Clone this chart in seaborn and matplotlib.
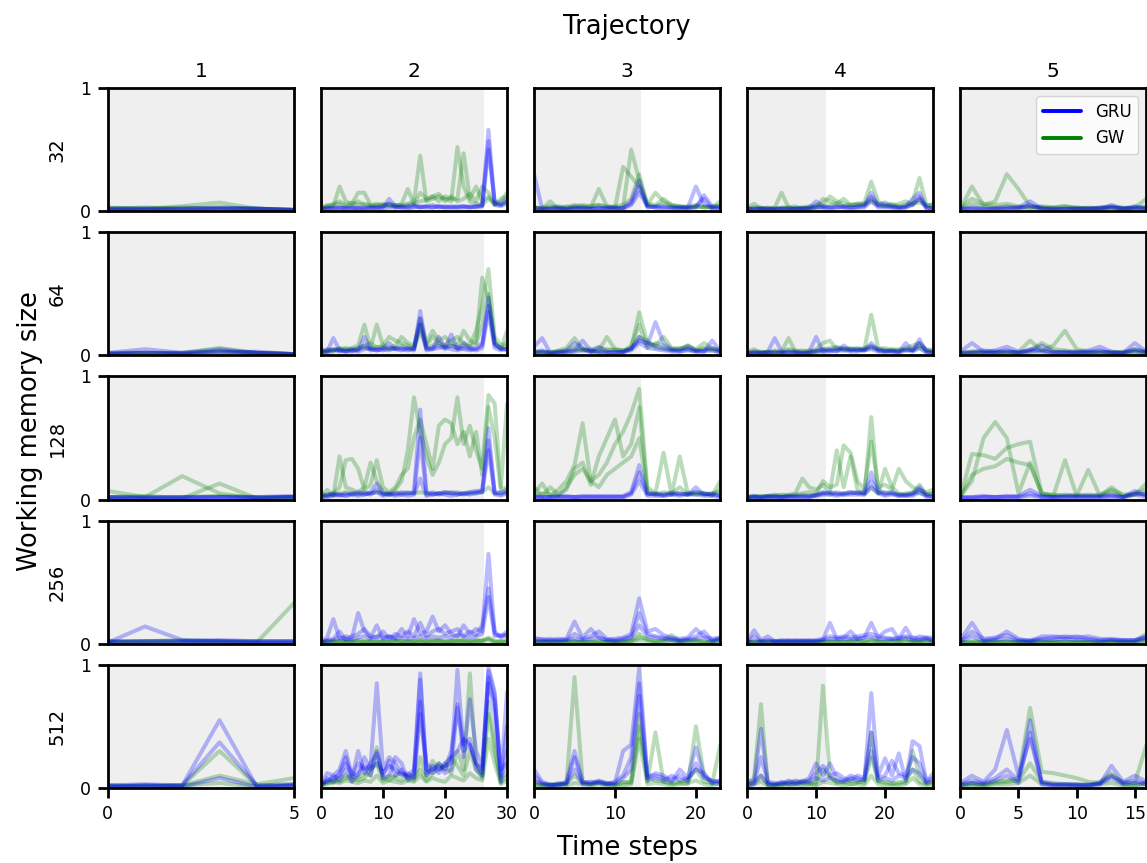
import matplotlib
matplotlib.use('Agg')
import matplotlib.pyplot as plt
from matplotlib.lines import Line2D
import seaborn as sns
import pandas as pd

sns.set_style('ticks')
plt.rcParams['font.family'] = ['DejaVu Sans']
plt.rcParams['xtick.labelsize'] = 12.5
plt.rcParams['ytick.labelsize'] = 12.5
plt.rcParams['text.color'] = 'black'
plt.rcParams['axes.labelcolor'] = 'black'
plt.rcParams['xtick.color'] = 'black'
plt.rcParams['ytick.color'] = 'black'

###############################################################################
# panel layout data
SIZES = [32, 64, 128, 256, 512]
TRAJS = [1, 2, 3, 4, 5]
X_MAX = [5, 30, 23, 27, 16]
SHADE_END = [5, 26.3, 13.2, 11.4, 16]
X_TICKS = [[0, 5], [0, 10, 20, 30], [0, 10, 20], [0, 10, 20], [0, 5, 10, 15]]
Y_TICKS = [0, 1]
COLORS = {'GRU': 'blue', 'GW': 'green'}

###############################################################################
# memory size 32
GRU_32_T1 = [[.02, .02, .02, .02, .02, .01],
             [.01, .01, .02, .03, .02, .01],
             [.02, .02, .01, .02, .02, .01]]
GW_32_T1 = [[.03, .02, .04, .07, .02, .01],
            [.02, .03, .02, .03, .02, .01],
            [.02, .02, .03, .02, .02, .01]]
GRU_32_T2 = [[.02, .02, .03, .03, .02, .03, .02, .03, .03, .02, .03, .10, .04, .03, .04, .05, .03, .04, .05, .03, .04, .03, .03, .04, .03, .04, .05, .66, .06, .05, .08],
             [.01, .02, .02, .03, .02, .02, .03, .02, .02, .03, .02, .03, .03, .04, .03, .03, .04, .03, .03, .04, .03, .04, .03, .03, .04, .03, .04, .57, .05, .04, .06],
             [.02, .03, .02, .02, .03, .03, .02, .02, .03, .03, .04, .06, .03, .03, .02, .04, .03, .04, .03, .04, .03, .03, .04, .04, .03, .04, .04, .50, .08, .06, .10]]
GW_32_T2 = [[.03, .05, .04, .20, .08, .06, .15, .15, .05, .06, .05, .04, .05, .05, .06, .08, .45, .08, .10, .12, .10, .08, .52, .20, .08, .06, .05, .10, .06, .05, .08],
            [.02, .04, .06, .08, .05, .07, .05, .06, .05, .04, .06, .05, .04, .06, .18, .06, .15, .10, .12, .08, .12, .10, .10, .47, .10, .20, .08, .12, .05, .08, .15],
            [.03, .03, .05, .06, .04, .05, .08, .05, .04, .05, .04, .06, .05, .04, .05, .06, .08, .09, .12, .14, .08, .12, .08, .10, .14, .08, .20, .15, .06, .10, .12]]
GRU_32_T3 = [[.30, .02, .02, .03, .02, .02, .03, .02, .02, .03, .02, .02, .08, .25, .04, .03, .03, .03, .02, .03, .20, .05, .03, .02],
             [.03, .02, .02, .02, .02, .03, .02, .02, .03, .02, .02, .03, .06, .20, .03, .04, .04, .03, .03, .03, .03, .13, .04, .03],
             [.02, .01, .02, .02, .01, .02, .02, .02, .02, .02, .03, .02, .05, .15, .04, .03, .02, .02, .03, .02, .04, .10, .02, .03]]
GW_32_T3 = [[.03, .02, .08, .02, .04, .03, .04, .03, .18, .04, .03, .03, .50, .25, .05, .15, .08, .05, .04, .03, .03, .04, .03, .08],
            [.02, .03, .03, .04, .03, .05, .03, .04, .05, .04, .03, .36, .28, .20, .06, .05, .10, .05, .04, .03, .04, .03, .04, .04],
            [.03, .02, .04, .03, .02, .04, .05, .04, .05, .03, .04, .05, .10, .30, .05, .04, .06, .04, .03, .04, .05, .03, .03, .05]]
GRU_32_T4 = [[.02, .02, .02, .02, .01, .02, .02, .02, .02, .03, .08, .04, .03, .03, .04, .03, .04, .05, .15, .05, .07, .04, .03, .04, .10, .15, .03, .02],
             [.01, .02, .02, .02, .02, .02, .01, .02, .02, .02, .03, .03, .03, .04, .03, .03, .03, .04, .12, .04, .04, .03, .03, .03, .05, .12, .03, .02],
             [.02, .01, .02, .01, .02, .02, .02, .02, .02, .02, .04, .03, .02, .03, .03, .02, .03, .03, .08, .03, .03, .03, .02, .03, .06, .10, .02, .02]]
GW_32_T4 = [[.03, .06, .02, .02, .03, .15, .03, .02, .03, .04, .03, .10, .08, .06, .10, .05, .06, .07, .24, .08, .05, .06, .04, .05, .08, .27, .05, .05],
            [.02, .03, .03, .02, .02, .03, .03, .04, .02, .03, .05, .06, .12, .08, .06, .05, .05, .06, .10, .06, .05, .04, .06, .08, .05, .10, .04, .06],
            [.02, .02, .02, .03, .02, .02, .03, .02, .03, .02, .03, .04, .05, .06, .04, .05, .06, .05, .08, .05, .04, .05, .03, .04, .06, .07, .05, .03]]
GRU_32_T5 = [[.02, .03, .02, .02, .03, .03, .08, .02, .02, .02, .02, .02, .02, .05, .02, .04, .02],
             [.01, .02, .02, .02, .02, .02, .05, .02, .01, .02, .02, .02, .02, .03, .02, .03, .02],
             [.02, .02, .01, .02, .02, .03, .04, .02, .02, .01, .02, .02, .03, .03, .02, .02, .02]]
GW_32_T5 = [[.02, .20, .05, .08, .30, .18, .04, .03, .03, .04, .02, .03, .02, .03, .02, .03, .10],
            [.03, .10, .06, .05, .06, .04, .03, .04, .03, .04, .03, .02, .03, .04, .03, .02, .04],
            [.02, .06, .04, .03, .04, .03, .02, .03, .02, .02, .03, .02, .02, .03, .02, .03, .03]]

# memory size 64
GRU_64_T1 = [[.02, .05, .02, .03, .02, .01],
             [.01, .02, .02, .05, .02, .01],
             [.02, .02, .01, .02, .03, .01]]
GW_64_T1 = [[.01, .02, .02, .06, .02, .01],
            [.02, .02, .01, .04, .02, .01],
            [.01, .01, .02, .03, .02, .01]]
GRU_64_T2 = [[.05, .03, .14, .04, .03, .05, .04, .15, .05, .04, .06, .10, .05, .06, .05, .04, .36, .06, .05, .15, .06, .17, .05, .10, .06, .05, .08, .47, .10, .05, .05],
             [.02, .04, .05, .03, .04, .03, .05, .08, .04, .05, .04, .06, .05, .04, .06, .05, .30, .05, .06, .08, .05, .08, .06, .05, .04, .06, .10, .40, .08, .06, .04],
             [.03, .02, .04, .05, .03, .04, .03, .05, .06, .04, .05, .04, .06, .05, .04, .06, .25, .04, .05, .06, .07, .05, .04, .06, .05, .04, .06, .35, .06, .04, .06]]
GW_64_T2 = [[.03, .05, .04, .06, .05, .06, .08, .25, .06, .25, .08, .06, .08, .15, .10, .08, .30, .10, .20, .12, .15, .10, .08, .20, .12, .10, .63, .45, .10, .05, .20],
            [.02, .04, .03, .05, .04, .05, .06, .08, .10, .06, .08, .15, .12, .10, .08, .06, .25, .08, .15, .10, .08, .12, .15, .10, .08, .20, .40, .70, .15, .08, .10],
            [.03, .03, .05, .04, .06, .04, .05, .06, .05, .07, .06, .05, .06, .08, .06, .05, .20, .06, .08, .10, .07, .08, .06, .08, .07, .10, .25, .50, .10, .06, .08]]
GRU_64_T3 = [[.07, .14, .02, .03, .04, .10, .06, .03, .07, .03, .02, .03, .05, .15, .08, .27, .10, .05, .04, .07, .04, .03, .12, .04],
             [.03, .04, .02, .02, .03, .04, .12, .04, .03, .02, .03, .02, .06, .12, .10, .08, .06, .04, .03, .05, .03, .04, .06, .03],
             [.02, .03, .01, .02, .02, .03, .04, .03, .02, .02, .02, .03, .04, .10, .06, .05, .04, .03, .03, .04, .03, .03, .04, .02]]
GW_64_T3 = [[.02, .03, .02, .04, .06, .14, .05, .03, .04, .15, .05, .04, .06, .35, .10, .08, .15, .06, .05, .08, .05, .10, .06, .04],
            [.03, .02, .03, .03, .04, .06, .04, .05, .06, .05, .04, .03, .08, .25, .06, .10, .08, .05, .06, .05, .04, .06, .05, .05],
            [.02, .02, .02, .03, .03, .04, .05, .04, .03, .04, .05, .04, .05, .15, .12, .06, .05, .04, .05, .08, .04, .05, .04, .03]]
GRU_64_T4 = [[.02, .03, .02, .03, .14, .03, .02, .03, .02, .03, .15, .03, .04, .03, .08, .04, .05, .04, .10, .04, .03, .04, .03, .10, .04, .13, .03, .02],
             [.01, .02, .02, .02, .03, .02, .03, .02, .02, .02, .04, .05, .04, .06, .05, .04, .04, .05, .07, .05, .04, .03, .03, .05, .04, .10, .04, .02],
             [.02, .01, .02, .02, .02, .02, .02, .02, .01, .02, .03, .03, .03, .04, .04, .03, .03, .04, .05, .03, .03, .03, .02, .04, .03, .06, .02, .02]]
GW_64_T4 = [[.03, .05, .02, .03, .02, .03, .14, .03, .04, .03, .05, .10, .12, .05, .06, .05, .06, .05, .33, .06, .04, .05, .04, .06, .08, .10, .04, .05],
            [.02, .03, .03, .02, .04, .03, .05, .04, .03, .04, .03, .05, .06, .07, .05, .06, .04, .06, .08, .05, .06, .04, .05, .04, .05, .08, .05, .03],
            [.02, .02, .02, .03, .02, .02, .04, .03, .02, .02, .03, .04, .05, .04, .04, .05, .05, .04, .06, .04, .03, .04, .03, .05, .04, .06, .03, .03]]
GRU_64_T5 = [[.03, .10, .03, .04, .07, .03, .04, .08, .03, .02, .03, .04, .07, .03, .02, .10, .03],
             [.02, .03, .04, .03, .04, .02, .05, .04, .02, .03, .02, .03, .04, .02, .02, .05, .03],
             [.01, .02, .02, .02, .03, .02, .03, .03, .02, .02, .02, .02, .03, .02, .02, .03, .02]]
GW_64_T5 = [[.02, .03, .02, .03, .02, .03, .12, .04, .08, .20, .05, .03, .02, .03, .02, .05, .03],
            [.02, .02, .03, .02, .03, .02, .04, .10, .05, .04, .03, .02, .03, .02, .03, .04, .02],
            [.01, .02, .02, .02, .02, .02, .03, .04, .03, .03, .02, .02, .02, .02, .02, .03, .02]]

# memory size 128
GRU_128_T1 = [[.02, .02, .02, .02, .02, .03],
              [.01, .01, .02, .02, .01, .02],
              [.02, .01, .01, .02, .02, .02]]
GW_128_T1 = [[.07, .02, .19, .05, .01, .02],
             [.02, .03, .01, .13, .01, .02],
             [.02, .02, .02, .03, .02, .02]]
GRU_128_T2 = [[.02, .03, .04, .03, .05, .04, .05, .04, .06, .13, .05, .04, .05, .04, .05, .06, .73, .06, .04, .05, .06, .05, .04, .05, .06, .07, .06, .58, .05, .06, .08],
              [.03, .04, .05, .04, .03, .05, .06, .05, .04, .08, .04, .05, .04, .06, .05, .05, .50, .04, .05, .04, .05, .06, .05, .04, .05, .06, .08, .48, .06, .05, .06],
              [.02, .02, .03, .04, .03, .04, .03, .04, .05, .06, .03, .04, .03, .04, .03, .04, .17, .03, .04, .05, .04, .03, .04, .05, .04, .05, .06, .40, .04, .03, .05]]
GW_128_T2 = [[.03, .08, .03, .35, .10, .08, .06, .10, .30, .15, .06, .05, .08, .15, .40, .83, .55, .35, .20, .30, .45, .50, .83, .45, .60, .40, .25, .85, .78, .10, .78],
             [.02, .04, .05, .10, .32, .33, .25, .08, .12, .32, .10, .06, .10, .20, .25, .50, .65, .45, .25, .60, .65, .62, .45, .55, .35, .55, .20, .75, .50, .08, .10],
             [.05, .03, .04, .05, .06, .05, .04, .06, .05, .06, .05, .04, .06, .05, .06, .05, .06, .05, .06, .05, .06, .05, .06, .05, .06, .05, .06, .10, .05, .04, .06]]
GRU_128_T3 = [[.03, .02, .02, .02, .03, .02, .02, .03, .02, .03, .02, .03, .06, .28, .05, .04, .03, .04, .05, .04, .10, .04, .05, .03],
              [.02, .02, .02, .03, .02, .02, .03, .02, .02, .02, .03, .02, .05, .22, .04, .05, .04, .05, .04, .05, .06, .05, .04, .03],
              [.02, .01, .02, .02, .02, .02, .02, .02, .03, .02, .02, .02, .04, .15, .03, .03, .03, .04, .03, .04, .04, .03, .03, .02]]
GW_128_T3 = [[.05, .13, .03, .08, .15, .28, .62, .15, .20, .30, .45, .55, .70, .90, .10, .05, .38, .04, .35, .05, .04, .05, .03, .15],
             [.10, .03, .10, .04, .08, .25, .30, .12, .35, .50, .65, .35, .45, .75, .05, .04, .06, .05, .10, .04, .06, .05, .04, .08],
             [.03, .05, .04, .03, .10, .20, .25, .15, .10, .20, .25, .30, .35, .50, .06, .05, .04, .06, .05, .04, .05, .04, .05, .06]]
GRU_128_T4 = [[.02, .03, .02, .02, .03, .02, .03, .02, .03, .02, .04, .06, .05, .04, .05, .06, .05, .06, .22, .08, .05, .06, .04, .03, .05, .10, .03, .03],
              [.02, .02, .02, .03, .02, .02, .02, .03, .02, .03, .03, .05, .06, .05, .04, .05, .06, .05, .15, .06, .04, .05, .03, .04, .04, .08, .04, .02],
              [.01, .02, .01, .02, .02, .02, .02, .02, .02, .02, .03, .04, .04, .03, .04, .04, .04, .04, .10, .05, .03, .04, .03, .03, .03, .06, .02, .02]]
GW_128_T4 = [[.02, .03, .02, .03, .04, .03, .04, .05, .17, .10, .08, .12, .06, .40, .10, .35, .08, .05, .67, .05, .25, .10, .05, .04, .05, .12, .04, .05],
             [.02, .02, .03, .02, .03, .04, .03, .04, .05, .06, .05, .15, .10, .12, .44, .38, .15, .08, .47, .10, .12, .08, .25, .15, .10, .08, .06, .08],
             [.01, .02, .02, .03, .02, .02, .03, .03, .04, .03, .04, .05, .04, .06, .05, .06, .05, .04, .10, .05, .06, .05, .04, .05, .06, .05, .04, .05]]
GRU_128_T5 = [[.02, .02, .03, .02, .02, .03, .08, .03, .02, .02, .03, .02, .03, .04, .02, .07, .03],
              [.01, .02, .02, .02, .03, .02, .05, .02, .02, .03, .02, .03, .02, .03, .02, .05, .04],
              [.02, .01, .02, .02, .02, .02, .03, .02, .02, .02, .02, .02, .02, .02, .02, .04, .02]]
GW_128_T5 = [[.02, .37, .36, .33, .42, .45, .47, .05, .03, .32, .03, .24, .03, .06, .02, .04, .05],
             [.03, .15, .50, .63, .50, .05, .30, .04, .03, .04, .03, .04, .03, .10, .03, .04, .13],
             [.02, .20, .25, .27, .33, .30, .28, .05, .04, .03, .04, .03, .04, .08, .04, .05, .08]]

# memory size 256
GRU_256_T1 = [[.01, .14, .03, .02, .02, .02],
              [.02, .02, .02, .03, .02, .02],
              [.01, .02, .02, .02, .01, .01]]
GW_256_T1 = [[.02, .02, .03, .02, .01, .33],
             [.01, .02, .02, .02, .02, .02],
             [.02, .01, .01, .01, .01, .01]]
GRU_256_T2 = [[.02, .05, .20, .04, .06, .05, .25, .10, .05, .15, .04, .06, .05, .12, .06, .20, .08, .10, .22, .10, .15, .08, .06, .15, .08, .12, .10, .73, .08, .06, .10],
              [.01, .03, .04, .10, .03, .06, .08, .12, .06, .05, .10, .04, .08, .06, .10, .06, .17, .06, .10, .12, .08, .10, .12, .06, .10, .07, .15, .45, .10, .05, .08],
              [.02, .02, .03, .05, .04, .03, .05, .06, .04, .06, .05, .06, .04, .05, .04, .05, .06, .05, .06, .05, .06, .05, .07, .06, .05, .06, .08, .38, .06, .07, .06]]
GW_256_T2 = [[.01, .02, .02, .01, .02, .02, .03, .02, .02, .01, .02, .02, .03, .02, .02, .02, .03, .02, .02, .03, .02, .02, .03, .02, .02, .03, .02, .05, .02, .02, .03],
             [.02, .01, .02, .02, .01, .02, .02, .01, .02, .02, .01, .02, .02, .02, .01, .02, .02, .02, .03, .02, .02, .02, .02, .03, .02, .02, .03, .04, .02, .01, .02],
             [.01, .01, .01, .02, .02, .01, .01, .02, .01, .02, .02, .01, .02, .01, .02, .01, .02, .01, .02, .02, .01, .02, .02, .02, .01, .02, .02, .03, .01, .02, .01]]
GRU_256_T3 = [[.05, .03, .04, .03, .04, .18, .05, .12, .05, .03, .04, .05, .08, .37, .10, .12, .07, .05, .04, .05, .12, .06, .04, .05],
              [.03, .04, .02, .04, .03, .08, .04, .06, .10, .04, .03, .04, .06, .25, .08, .06, .05, .04, .03, .04, .06, .10, .03, .04],
              [.02, .02, .03, .02, .03, .04, .03, .04, .05, .03, .02, .03, .05, .15, .06, .05, .04, .03, .02, .03, .04, .05, .02, .03]]
GW_256_T3 = [[.02, .01, .02, .01, .02, .02, .01, .02, .01, .02, .02, .01, .03, .08, .03, .02, .03, .07, .02, .03, .02, .01, .02, .05],
             [.01, .02, .01, .02, .01, .01, .02, .01, .02, .01, .01, .02, .02, .05, .04, .02, .02, .03, .02, .02, .03, .02, .01, .03],
             [.01, .01, .01, .01, .01, .02, .01, .01, .01, .01, .01, .01, .02, .03, .02, .01, .02, .02, .01, .01, .02, .01, .01, .02]]
GRU_256_T4 = [[.02, .11, .03, .06, .02, .03, .02, .03, .02, .03, .02, .03, .17, .04, .05, .10, .04, .05, .17, .05, .10, .12, .04, .13, .04, .06, .05, .05],
              [.01, .06, .02, .03, .02, .02, .03, .02, .03, .02, .03, .04, .06, .05, .06, .05, .06, .07, .08, .06, .05, .04, .05, .06, .05, .04, .05, .03],
              [.01, .02, .02, .02, .02, .02, .02, .02, .02, .02, .02, .03, .04, .04, .04, .04, .04, .05, .05, .04, .04, .04, .04, .05, .03, .03, .04, .02]]
GW_256_T4 = [[.02, .01, .02, .01, .02, .01, .02, .01, .02, .02, .01, .02, .02, .01, .02, .02, .03, .02, .04, .02, .02, .03, .02, .04, .02, .02, .03, .02],
             [.01, .01, .01, .02, .01, .02, .01, .02, .01, .01, .02, .01, .02, .02, .01, .02, .02, .01, .02, .02, .01, .02, .02, .02, .01, .02, .02, .01],
             [.01, .01, .01, .01, .01, .01, .01, .01, .01, .01, .01, .01, .01, .01, .01, .01, .01, .01, .01, .01, .01, .01, .01, .01, .01, .01, .01, .01]]
GRU_256_T5 = [[.03, .17, .03, .04, .10, .04, .02, .06, .06, .05, .06, .04, .03, .04, .03, .03, .06],
              [.02, .10, .04, .05, .07, .03, .03, .04, .05, .06, .05, .06, .04, .03, .03, .03, .05],
              [.02, .06, .02, .03, .04, .02, .02, .03, .03, .04, .03, .03, .02, .03, .02, .02, .04]]
GW_256_T5 = [[.01, .02, .02, .01, .02, .01, .02, .02, .01, .02, .01, .02, .01, .02, .01, .02, .08],
             [.01, .01, .01, .02, .01, .02, .01, .01, .02, .01, .02, .01, .01, .01, .02, .01, .03],
             [.01, .01, .01, .01, .01, .01, .01, .01, .01, .01, .01, .01, .01, .01, .01, .01, .02]]

# memory size 512
GRU_512_T1 = [[.02, .03, .02, .55, .01, .02],
              [.01, .02, .02, .37, .02, .03],
              [.02, .02, .01, .08, .01, .02]]
GW_512_T1 = [[.01, .02, .02, .30, .02, .03],
             [.02, .01, .02, .10, .03, .08],
             [.01, .01, .02, .04, .01, .02]]
GRU_512_T2 = [[.03, .12, .10, .15, .30, .10, .20, .15, .18, .85, .15, .25, .20, .12, .10, .15, .93, .15, .12, .15, .18, .20, .96, .30, .35, .20, .15, .98, .78, .10, .78],
              [.02, .08, .05, .12, .25, .08, .30, .12, .20, .28, .10, .22, .10, .15, .08, .12, .88, .12, .15, .18, .12, .15, .68, .25, .72, .30, .18, .90, .60, .05, .30],
              [.04, .05, .10, .06, .15, .05, .12, .18, .10, .30, .08, .10, .25, .20, .06, .10, .70, .10, .18, .12, .20, .25, .30, .40, .35, .20, .12, .85, .70, .15, .20],
              [.02, .06, .08, .10, .20, .12, .10, .25, .15, .20, .12, .18, .15, .10, .12, .08, .60, .20, .15, .20, .15, .30, .65, .35, .40, .15, .10, .95, .75, .08, .50]]
GW_512_T2 = [[.02, .05, .04, .08, .10, .06, .08, .12, .10, .33, .08, .06, .10, .12, .08, .06, .25, .10, .22, .15, .20, .12, .30, .15, .93, .20, .10, .70, .35, .05, .15],
             [.03, .04, .06, .05, .08, .10, .06, .08, .15, .20, .06, .10, .08, .06, .10, .08, .15, .06, .12, .20, .15, .25, .18, .10, .30, .15, .08, .60, .30, .04, .10],
             [.02, .03, .05, .04, .06, .05, .04, .06, .05, .10, .04, .06, .05, .04, .06, .05, .10, .05, .08, .06, .05, .10, .08, .06, .12, .08, .06, .40, .20, .03, .06]]
GRU_512_T3 = [[.15, .05, .02, .03, .05, .30, .05, .04, .06, .04, .04, .30, .35, .98, .10, .10, .08, .05, .15, .08, .33, .10, .05, .06],
              [.10, .04, .03, .02, .04, .25, .04, .05, .04, .03, .05, .10, .25, .85, .08, .12, .10, .06, .10, .05, .20, .08, .06, .05],
              [.06, .03, .02, .03, .03, .15, .03, .03, .05, .03, .03, .08, .15, .75, .06, .08, .06, .10, .06, .08, .15, .12, .04, .03]]
GW_512_T3 = [[.05, .03, .02, .04, .03, .90, .05, .03, .04, .03, .02, .04, .05, .60, .05, .45, .05, .03, .04, .03, .50, .10, .03, .35],
             [.03, .02, .03, .02, .04, .10, .04, .03, .05, .04, .03, .05, .04, .50, .08, .06, .05, .04, .05, .06, .15, .05, .04, .05],
             [.02, .02, .02, .03, .02, .04, .03, .02, .03, .02, .02, .02, .03, .40, .03, .04, .03, .02, .03, .04, .06, .03, .02, .04]]
GRU_512_T4 = [[.05, .06, .48, .04, .03, .05, .04, .06, .05, .08, .20, .10, .20, .08, .06, .10, .08, .06, .77, .10, .24, .10, .28, .06, .38, .34, .05, .12],
              [.03, .04, .25, .05, .04, .03, .06, .04, .05, .06, .12, .18, .10, .12, .08, .06, .10, .08, .45, .08, .10, .22, .12, .10, .25, .20, .06, .08],
              [.02, .03, .10, .03, .02, .04, .03, .03, .04, .05, .08, .06, .08, .06, .05, .08, .06, .07, .30, .06, .08, .06, .10, .08, .15, .12, .04, .06]]
GW_512_T4 = [[.04, .08, .68, .02, .03, .02, .05, .03, .06, .04, .03, .83, .10, .04, .05, .03, .04, .06, .45, .05, .04, .03, .05, .04, .30, .10, .04, .05],
             [.02, .05, .10, .03, .02, .04, .03, .05, .04, .03, .05, .15, .08, .05, .04, .06, .05, .04, .25, .06, .05, .04, .03, .06, .15, .05, .03, .04],
             [.01, .03, .05, .02, .02, .02, .02, .03, .02, .03, .02, .05, .04, .03, .02, .03, .03, .02, .10, .03, .02, .02, .02, .03, .08, .03, .02, .02]]
GRU_512_T5 = [[.04, .10, .05, .15, .47, .10, .40, .05, .03, .03, .02, .03, .03, .18, .05, .10, .05],
              [.03, .06, .04, .08, .15, .06, .55, .04, .02, .03, .03, .02, .04, .10, .04, .06, .03],
              [.02, .04, .03, .06, .10, .04, .45, .03, .02, .02, .02, .02, .03, .08, .03, .04, .03]]
GW_512_T5 = [[.03, .04, .03, .05, .06, .08, .65, .13, .12, .10, .08, .05, .04, .10, .05, .04, .35],
             [.02, .03, .02, .04, .05, .06, .20, .05, .04, .03, .03, .02, .05, .12, .03, .02, .05],
             [.01, .02, .02, .03, .03, .04, .10, .03, .03, .02, .02, .02, .03, .04, .02, .02, .03]]

###############################################################################
PANELS = {
    32: [(GRU_32_T1, GW_32_T1), (GRU_32_T2, GW_32_T2), (GRU_32_T3, GW_32_T3), (GRU_32_T4, GW_32_T4), (GRU_32_T5, GW_32_T5)],
    64: [(GRU_64_T1, GW_64_T1), (GRU_64_T2, GW_64_T2), (GRU_64_T3, GW_64_T3), (GRU_64_T4, GW_64_T4), (GRU_64_T5, GW_64_T5)],
    128: [(GRU_128_T1, GW_128_T1), (GRU_128_T2, GW_128_T2), (GRU_128_T3, GW_128_T3), (GRU_128_T4, GW_128_T4), (GRU_128_T5, GW_128_T5)],
    256: [(GRU_256_T1, GW_256_T1), (GRU_256_T2, GW_256_T2), (GRU_256_T3, GW_256_T3), (GRU_256_T4, GW_256_T4), (GRU_256_T5, GW_256_T5)],
    512: [(GRU_512_T1, GW_512_T1), (GRU_512_T2, GW_512_T2), (GRU_512_T3, GW_512_T3), (GRU_512_T4, GW_512_T4), (GRU_512_T5, GW_512_T5)],
}

records = []
for mem, pairs in PANELS.items():
    for traj, (gru_runs, gw_runs) in zip(TRAJS, pairs):
        for model, runs in (('GW', gw_runs), ('GRU', gru_runs)):
            for r, vals in enumerate(runs):
                for t, v in enumerate(vals):
                    records.append((model, mem, traj, r, t, v))
df = pd.DataFrame(records, columns=['model', 'mem', 'traj', 'run', 't', 'value'])

###############################################################################
fig, axes = plt.subplots(5, 5, figsize=(11.47, 8.63), dpi=100)
fig.subplots_adjust(left=0.094, right=0.9995, top=0.898, bottom=0.087,
                    wspace=0.145, hspace=0.171)

for i, mem in enumerate(SIZES):
    for j, traj in enumerate(TRAJS):
        ax = axes[i, j]
        ax.axvspan(0, SHADE_END[j], color='#efefef', lw=0, zorder=0)
        sub = df[(df['mem'] == mem) & (df['traj'] == traj)]
        sns.lineplot(data=sub, x='t', y='value', hue='model', hue_order=['GW', 'GRU'],
                     units='run', estimator=None, palette=COLORS, alpha=0.27,
                     lw=2.9, legend=False, ax=ax)
        ax.set_xlim(0, X_MAX[j])
        ax.set_ylim(0, 1)
        ax.set_xticks(X_TICKS[j])
        ax.set_yticks(Y_TICKS)
        ax.tick_params(length=7, width=2, pad=5,
                       bottom=(i == 4), labelbottom=(i == 4),
                       left=(j == 0), labelleft=(j == 0))
        for sp in ax.spines.values():
            sp.set_linewidth(2)
            sp.set_color('black')
        ax.set_xlabel('')
        if j == 0:
            ax.set_ylabel(str(mem), fontsize=14)
            ax.yaxis.set_label_coords(-0.22, 0.5)
        else:
            ax.set_ylabel('')
        if i == 0:
            ax.set_title(str(traj), fontsize=14.5, pad=8)

handles = [Line2D([0], [0], color=COLORS['GRU'], lw=2.8, label='GRU'),
           Line2D([0], [0], color=COLORS['GW'], lw=2.8, label='GW')]
axes[0, 4].legend(handles=handles, loc='upper right', fontsize=12, handlelength=2.3)

mid_x = (0.094 + 0.9995) / 2
fig.text(mid_x, 0.969, 'Trajectory', ha='center', va='center', fontsize=18.5)
fig.text(mid_x, 0.017, 'Time steps', ha='center', va='center', fontsize=18.5)
fig.text(0.026, 0.5, 'Working memory size', ha='center', va='center',
         rotation=90, fontsize=18.5)

plt.savefig('out.png', dpi=100)
print('saved')
